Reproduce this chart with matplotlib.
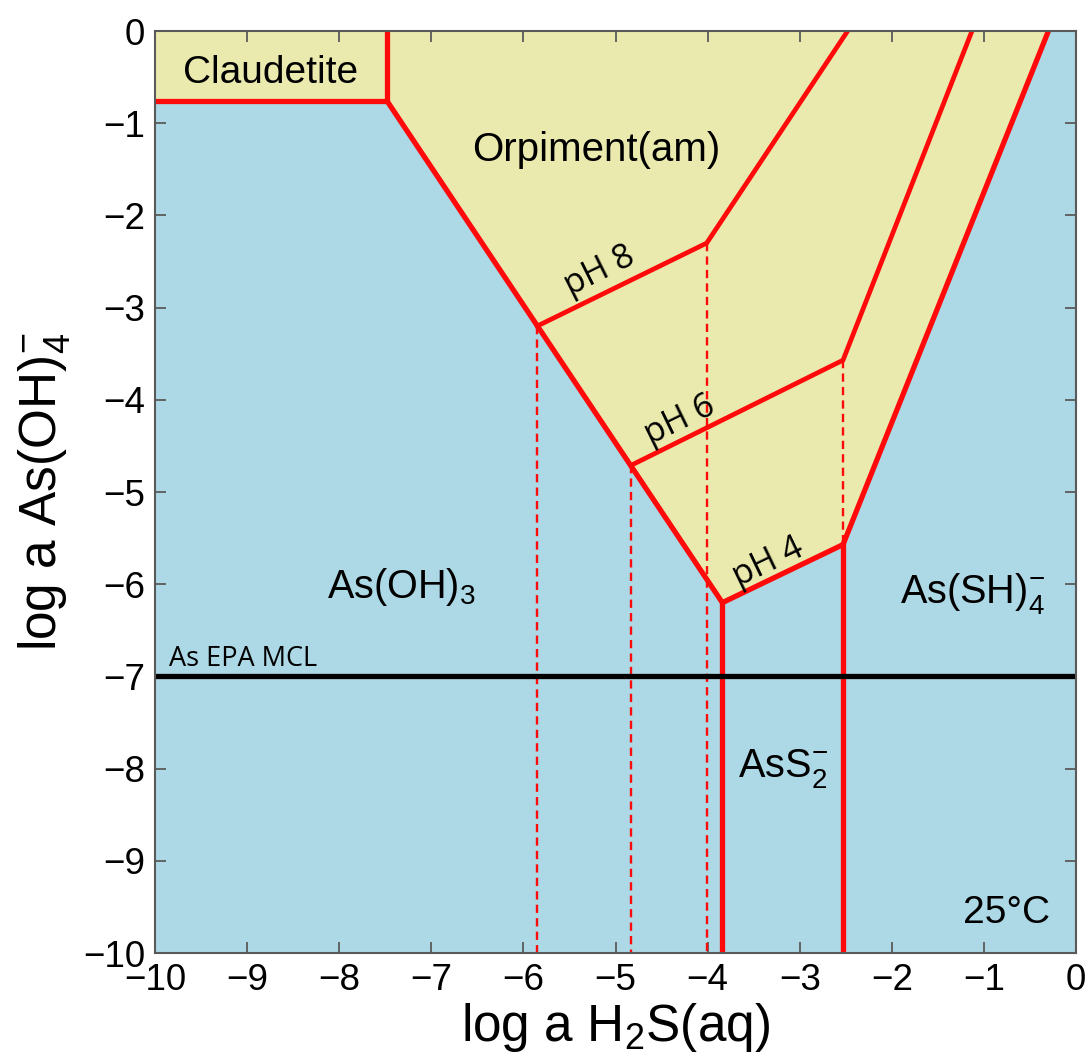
import matplotlib
matplotlib.use("Agg")
import matplotlib.pyplot as plt

plt.rcParams["font.family"] = ["Liberation Sans", "DejaVu Sans"]
plt.rcParams["mathtext.fontset"] = "custom"
plt.rcParams["mathtext.rm"] = "Liberation Sans"
plt.rcParams["mathtext.it"] = "Liberation Sans:italic"
plt.rcParams["mathtext.bf"] = "Liberation Sans:bold"

# Phase boundaries: log a H2S(aq) (x) vs log a As(OH)4- (y)
claudetite_x = [-10.0, -7.48, -7.48]
claudetite_y = [-0.76, -0.76, 0.0]

orpiment_x = [-7.48, -3.84, -2.53, -0.30]      # orpiment / aqueous boundary (pH 4)
orpiment_y = [-0.76, -6.20, -5.57, 0.0]

ph6_x = [-4.83, -2.53, -1.13]
ph6_y = [-4.71, -3.57, 0.0]

ph8_x = [-5.85, -4.01, -2.48]
ph8_y = [-3.20, -2.30, 0.0]

ass2_left_x, ass2_right_x = -3.84, -2.53
ass2_left_top, ass2_right_top = -6.20, -5.57

# Dashed guides dropped from the boundary corners
guide_x = [-5.85, -4.83, -4.01, -2.53]
guide_top = [-3.20, -4.71, -2.30, -3.57]
guide_bottom = [-10.0, -10.0, -10.0, -5.57]

mcl_level = -7.0

BLUE = "#ADD8E6"
YELLOW = "#EBEAAE"
RED = "#FF0A0A"
SPINE = "#5a5a5a"

fig = plt.figure(figsize=(10.9, 10.62), dpi=100)
ax = fig.add_axes([0.1422, 0.1026, 0.8450, 0.8682])
ax.set_xlim(-10, 0)
ax.set_ylim(-10, 0)
ax.set_facecolor(BLUE)

# Solid-phase fields
ax.fill([-10.0] + claudetite_x + [-10.0], [-0.76] + claudetite_y + [0.0],
        color=YELLOW, lw=0, zorder=1)
ax.fill([orpiment_x[0]] + orpiment_x + [orpiment_x[0]],
        [0.0] + orpiment_y + [0.0], color=YELLOW, lw=0, zorder=1)

# Dashed guides
for gx, gt, gb in zip(guide_x, guide_top, guide_bottom):
    ax.plot([gx, gx], [gt, gb], color=RED, lw=1.7, ls=(0, (3.5, 2.2)), zorder=2)

# Boundaries
lw = 3.8
ax.plot(claudetite_x, claudetite_y, color=RED, lw=lw, zorder=3, solid_joinstyle="miter")
ax.plot(orpiment_x, orpiment_y, color=RED, lw=lw, zorder=3, solid_joinstyle="miter")
ax.plot(ph6_x, ph6_y, color=RED, lw=lw * 0.9, zorder=3, solid_joinstyle="miter")
ax.plot(ph8_x, ph8_y, color=RED, lw=lw * 0.9, zorder=3, solid_joinstyle="miter")
ax.plot([ass2_left_x, ass2_left_x], [ass2_left_top, -10], color=RED, lw=lw, zorder=3)
ax.plot([ass2_right_x, ass2_right_x], [ass2_right_top, -10], color=RED, lw=lw, zorder=3)

# EPA maximum contaminant level
ax.axhline(mcl_level, color="black", lw=3.8, zorder=4)
ax.text(-9.85, mcl_level + 0.04, "As EPA MCL", family=["Open Sans", "DejaVu Sans"],
        fontsize=19.5, ha="left", va="bottom", zorder=5)

# Field labels
ax.text(-8.75, -0.45, "Claudetite", fontsize=28, ha="center", va="center", zorder=5)
ax.text(-5.21, -1.29, "Orpiment(am)", fontsize=29, ha="center", va="center", zorder=5)
ax.text(-7.33, -6.03, r"As(OH)$_3$", fontsize=28.5, ha="center", va="center", zorder=5)
ax.text(-1.12, -6.10, r"As(SH)$_4^{-}$", fontsize=28.5, ha="center", va="center", zorder=5)
ax.text(-3.18, -8.00, r"AsS$_2^{-}$", fontsize=28.5, ha="center", va="center", zorder=5)
ax.text(-0.28, -9.57, "25°C", fontsize=28, ha="right", va="center", zorder=5)

ph_font = ["Open Sans", "DejaVu Sans"]
ax.text(-5.17, -2.60, "pH 8", family=ph_font, fontsize=24.5, rotation=26.6,
        ha="center", va="center", rotation_mode="anchor", zorder=5)
ax.text(-4.30, -4.22, "pH 6", family=ph_font, fontsize=24.5, rotation=26.0,
        ha="center", va="center", rotation_mode="anchor", zorder=5)
ax.text(-3.34, -5.76, "pH 4", family=ph_font, fontsize=24.5, rotation=25.7,
        ha="center", va="center", rotation_mode="anchor", zorder=5)

# Axes styling
ticks = list(range(-10, 1))
ax.set_xticks(ticks)
ax.set_yticks(ticks)
ax.set_xticklabels(["\u2212%d" % -t if t < 0 else "0" for t in ticks])
ax.set_yticklabels(["\u2212%d" % -t if t < 0 else "0" for t in ticks])
ax.tick_params(direction="in", length=8, width=1.3, color=SPINE, labelsize=26.5,
               top=True, right=True, pad=7)
for s in ax.spines.values():
    s.set_color(SPINE)
    s.set_linewidth(1.5)
    s.set_zorder(6)

ax.set_xlabel(r"log a H$_2$S(aq)", fontsize=37, labelpad=2)
ax.set_ylabel(r"log a As(OH)$_4^{-}$", fontsize=37, labelpad=8)

fig.savefig("out.png", dpi=100, facecolor="white")
